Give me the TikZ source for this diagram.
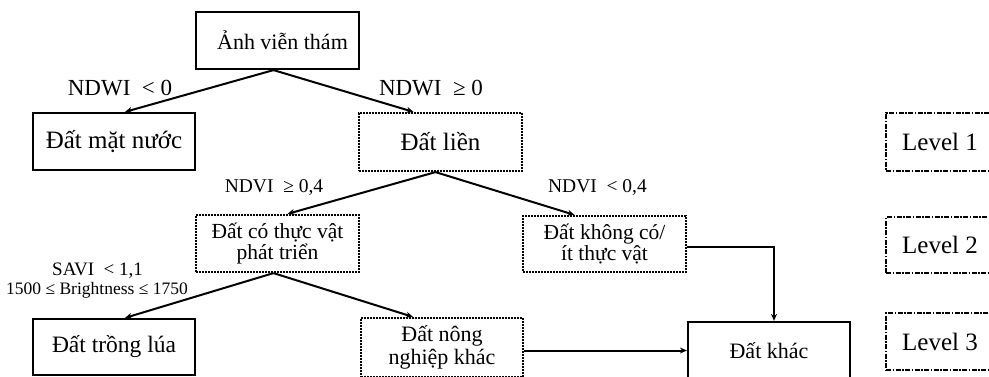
\documentclass[tikz,border=0pt]{standalone}
\usepackage{fontspec}
\setmainfont{Liberation Serif}
\usetikzlibrary{arrows.meta}
\newcommand{\fs}[1]{\fontsize{#1}{#1}\selectfont}
\tikzset{
  solidbox/.style={draw, line width=2.2pt, inner sep=0pt, align=center},
  dashbox/.style={draw, line width=2.2pt, dash pattern=on 2pt off 1pt, inner sep=0pt, align=center},
  levelbox/.style={draw, line width=2pt, dash pattern=on 5pt off 1.5pt on 1.5pt off 1.5pt, inner sep=0pt, align=center},
  conn/.style={line width=2pt, -{Stealth[length=7pt,width=6pt]}},
  cond/.style={inner sep=0pt, align=center}
}
\begin{document}
\begin{tikzpicture}[x=1pt,y=-1pt]
\clip (0,0) rectangle (989,377);
\fill[white] (0,0) rectangle (989,377);
% level 1
\node[solidbox, minimum width=163pt, minimum height=57pt, font=\fs{22}] (top) at (277.5,40.5) {\hspace*{10pt}Ảnh viễn thám};
\node[solidbox, minimum width=162pt, minimum height=57pt, font=\fs{25}] (water) at (114,141.5) {Đất mặt nước};
\node[dashbox, minimum width=163pt, minimum height=58pt, font=\fs{25}] (land) at (440.5,142) {Đất liền};
% level 2
\node[dashbox, minimum width=163pt, minimum height=57pt, font=\fs{21.5}] (veg) at (277.5,243.5) {Đất có thực vật\\phát triển};
\node[dashbox, minimum width=163pt, minimum height=56pt, font=\fs{21.5}] (noveg) at (604.5,244) {Đất không có/\\ít thực vật};
% level 3
\node[solidbox, minimum width=162pt, minimum height=56pt, font=\fs{23.5}] (rice) at (114,347) {Đất trồng lúa};
\node[dashbox, minimum width=162pt, minimum height=59pt, font=\fs{22}] (agri) at (442,347.5) {Đất nông\\[1pt]nghiệp khác};
\node[solidbox, minimum width=162pt, minimum height=58pt, font=\fs{22}] (other) at (769,351) {Đất khác};
% level labels
\node[levelbox, minimum width=108pt, minimum height=58pt, font=\fs{25}] (L1) at (940,142) {Level 1};
\node[levelbox, minimum width=108pt, minimum height=56pt, font=\fs{25}] (L2) at (940,245) {Level 2};
\node[levelbox, minimum width=108pt, minimum height=57pt, font=\fs{25}] (L3) at (940,341.5) {Level 3};
% connectors
\draw[conn] ([xshift=-4pt]top.south) -- ([xshift=11pt]water.north);
\draw[conn] ([xshift=-4pt]top.south) -- ([xshift=-27pt]land.north);
\draw[conn] ([xshift=-5pt]land.south) -- ([xshift=10pt]veg.north);
\draw[conn] ([xshift=-5pt]land.south) -- ([xshift=-30pt]noveg.north);
\draw[conn] ([xshift=-4pt]veg.south) -- ([xshift=11pt]rice.north);
\draw[conn] ([xshift=-4pt]veg.south) -- ([xshift=-29pt]agri.north);
\draw[conn] ([yshift=-3pt]noveg.east) -| ([xshift=5pt]other.north);
\draw[conn] ([yshift=-3pt]agri.east) -- ([yshift=-3pt]agri.east -| other.west);
% conditions
\node[cond, font=\fs{23}] (c1) at (120,88) {NDWI~~<~0};
\node[cond, font=\fs{23}] (c2) at (431,88) {NDWI~~≥~0};
\node[cond, font=\fs{19.5}] (c3) at (274,188) {NDVI~~≥~0,4};
\node[cond, font=\fs{19.5}] (c4) at (597.5,188) {NDVI~~<~0,4};
\node[cond, font=\fs{19}] (c5) at (97.5,271) {SAVI~~<~1,1};
\node[cond, font=\fs{17.5}] (c6) at (97,290) {1500~≤~Brightness~≤~1750};
\end{tikzpicture}
\end{document}
